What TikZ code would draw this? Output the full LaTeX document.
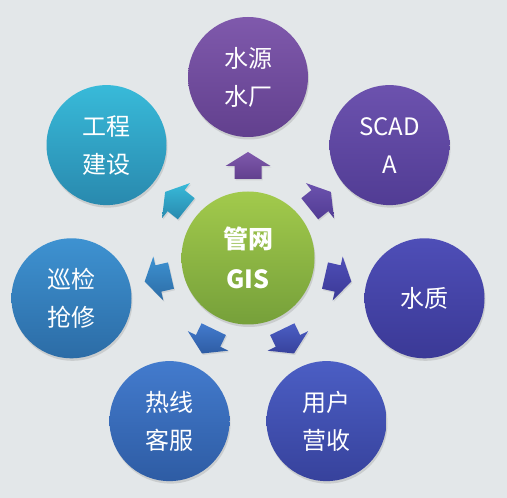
\documentclass[tikz,border=0pt]{standalone}
\usepackage{fontspec}
\setmainfont{Noto Sans CJK SC}
\usetikzlibrary{shadows}

\definecolor{bgc}{HTML}{E3E7E9}
\definecolor{gisT}{HTML}{A2CA4C}
\definecolor{gisB}{HTML}{76A03A}
\definecolor{srcT}{HTML}{7F59AC}
\definecolor{srcB}{HTML}{62408E}
\definecolor{scadaT}{HTML}{6C52AE}
\definecolor{scadaB}{HTML}{513C94}
\definecolor{qualT}{HTML}{4E4EB7}
\definecolor{qualB}{HTML}{3B3996}
\definecolor{billT}{HTML}{4B5EC4}
\definecolor{billB}{HTML}{37429C}
\definecolor{hotT}{HTML}{437BCD}
\definecolor{hotB}{HTML}{2E5CA4}
\definecolor{patT}{HTML}{3E92D1}
\definecolor{patB}{HTML}{2C6CA6}
\definecolor{buildT}{HTML}{38BAD9}
\definecolor{buildB}{HTML}{2989AE}

\tikzset{
  ball/.style={circle,minimum size=120pt,inner sep=0pt,text=white,align=center,
    font=\fontsize{24}{38}\selectfont,
    drop shadow={shadow xshift=1pt,shadow yshift=-2.5pt,opacity=0.25}},
  hub/.style={ball,minimum size=133pt,font=\bfseries\fontsize{25}{40}\selectfont}
}

% block arrow pointing out of the hub
\newcommand\hubarrow[3]{%
  \path[top color=#2,bottom color=#3,shift={(248,240)},rotate=#1,
    drop shadow={shadow xshift=1pt,shadow yshift=-1.5pt,opacity=0.2}]
    (79,-13.5) -- (92,-13.5) -- (92,-22.5) -- (106,0) -- (92,22.5) -- (92,13.5) -- (79,13.5) -- cycle;}

\begin{document}
\begin{tikzpicture}[x=1pt,y=1pt]
\path[fill=bgc] (0,0) rectangle (507,498);

\node[hub,top color=gisT,bottom color=gisB] (gis) at (248,240) {管网\\GIS};

\node[ball,top color=srcT,bottom color=srcB] (src) at (248,421) {水源\\水厂};
\node[ball,top color=scadaT,bottom color=scadaB] (scada) at (389.5,352.9) {SCAD\\A};
\node[ball,top color=qualT,bottom color=qualB] (qual) at (424.5,199.7) {水质};
\node[ball,top color=billT,bottom color=billB] (bill) at (326.5,76.9) {用户\\营收};
\node[ball,top color=hotT,bottom color=hotB] (hot) at (169.5,76.9) {热线\\客服};
\node[ball,top color=patT,bottom color=patB] (pat) at (71.5,199.7) {巡检\\抢修};
\node[ball,top color=buildT,bottom color=buildB] (build) at (106.5,352.9) {工程\\建设};

\hubarrow{90}{srcT}{srcB}
\hubarrow{38.57}{scadaT}{scadaB}
\hubarrow{-12.86}{qualT}{qualB}
\hubarrow{-64.29}{billT}{billB}
\hubarrow{-115.71}{hotT}{hotB}
\hubarrow{-167.14}{patT}{patB}
\hubarrow{141.43}{buildT}{buildB}
\end{tikzpicture}
\end{document}
